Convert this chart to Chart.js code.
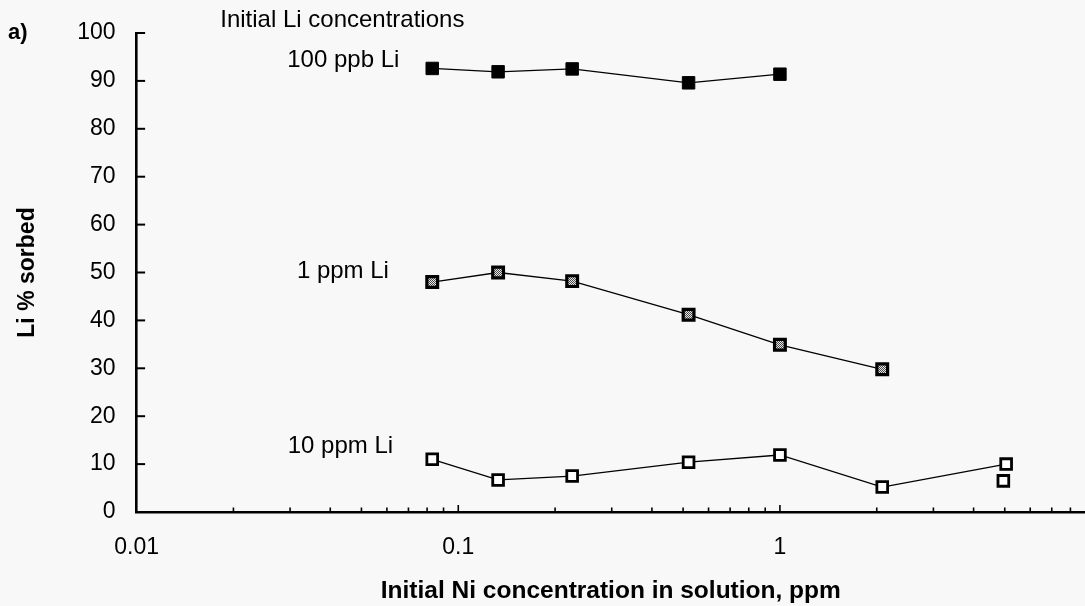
<!DOCTYPE html>
<html>
<head>
<meta charset="utf-8">
<title>Li sorption vs initial Ni concentration</title>
<script src="https://cdn.jsdelivr.net/npm/chart.js@4/dist/chart.umd.min.js"></script>
<style>
  html, body { margin: 0; padding: 0; background: #f8f8f8; }
  #wrap { width: 1085px; height: 606px; }
</style>
</head>
<body>
<div id="wrap"><canvas id="c" width="1085" height="606"></canvas></div>
<script>
// Initial Ni concentration in solution (ppm)
const niConc = [0.083, 0.133, 0.226, 0.52, 1.0, 2.08, 5.05];
// Li % sorbed for each initial Li concentration
const sorbed100ppb = [92.6, 91.9, 92.5, 89.6, 91.4];
const sorbed1ppm   = [48.0, 50.0, 48.2, 41.2, 34.9, 29.8];
const sorbed10ppm  = [11.0, 6.7, 7.5, 10.4, 11.9, 5.2, 10.0];
// replicate 10 ppm point that is not joined to the line
const replicateNi10ppm = [4.95];
const replicateSorbed10ppm = [6.5];

const seriesNames = ['100 ppb Li', '1 ppm Li', '10 ppm Li'];
const xTickLabels = [0.01, 0.1, 1];
const yTickValues = [0, 10, 20, 30, 40, 50, 60, 70, 80, 90, 100];

// series name placement in data units (Ni ppm, % sorbed)
const nameAnchorX = [0.0294, 0.0315, 0.0295];
const nameAnchorY = [94.2, 50.3, 13.6];
const headingText = 'Initial Li concentrations';
const headingAnchor = [0.0182, 102.6];

const FONT = "'Liberation Sans', Arial, Helvetica, sans-serif";

function pairs(xs, ys) {
  return ys.map((v, i) => ({ x: xs[i], y: v }));
}

// speckled grey fill for the 1 ppm markers
function speckle() {
  const c = document.createElement('canvas');
  c.width = 2; c.height = 2;
  const g = c.getContext('2d');
  g.fillStyle = '#e6e6e6'; g.fillRect(0, 0, 2, 2);
  g.fillStyle = '#4a4a4a'; g.fillRect(0, 0, 1, 1); g.fillRect(1, 1, 1, 1);
  return g.createPattern(c, 'repeat');
}

const lineBase = {
  borderColor: '#000',
  borderWidth: 1.3,
  tension: 0,
  pointStyle: 'rect',
  pointBorderColor: '#000',
  clip: false
};

const decor = {
  id: 'decor',
  afterDraw(chart) {
    const { ctx, chartArea: area, scales: { x, y } } = chart;
    ctx.save();
    ctx.strokeStyle = '#000';
    // inward tick marks on the log axis
    ctx.lineWidth = 1.6;
    x.ticks.forEach(t => {
      if (t.value <= x.min) return;
      const px = x.getPixelForValue(t.value);
      const len = xTickLabels.includes(t.value) ? 7 : 4.5;
      ctx.beginPath();
      ctx.moveTo(px, area.bottom);
      ctx.lineTo(px, area.bottom - len);
      ctx.stroke();
    });
    // inward tick marks on the value axis
    ctx.lineWidth = 2;
    y.ticks.forEach(t => {
      if (t.value <= y.min) return;
      const py = y.getPixelForValue(t.value);
      ctx.beginPath();
      ctx.moveTo(area.left, py);
      ctx.lineTo(area.left + 8.5, py);
      ctx.stroke();
    });
    // series names and heading
    ctx.fillStyle = '#000';
    ctx.textAlign = 'left';
    ctx.textBaseline = 'middle';
    ctx.font = '24px ' + FONT;
    seriesNames.forEach((name, i) => {
      ctx.fillText(name, x.getPixelForValue(nameAnchorX[i]), y.getPixelForValue(nameAnchorY[i]));
    });
    ctx.fillText(headingText, x.getPixelForValue(headingAnchor[0]), y.getPixelForValue(headingAnchor[1]));
    // panel letter
    ctx.font = 'bold 22px ' + FONT;
    ctx.fillText('a)', 8, 33);
    ctx.restore();
  }
};

new Chart(document.getElementById('c'), {
  type: 'line',
  data: {
    datasets: [
      Object.assign({}, lineBase, {
        label: seriesNames[0],
        data: pairs(niConc, sorbed100ppb),
        pointBackgroundColor: '#000',
        pointBorderWidth: 1,
        pointRadius: 8.8
      }),
      Object.assign({}, lineBase, {
        label: seriesNames[1],
        data: pairs(niConc, sorbed1ppm),
        pointBackgroundColor: speckle(),
        pointBorderWidth: 3.2,
        pointRadius: 7.6
      }),
      Object.assign({}, lineBase, {
        label: seriesNames[2],
        data: pairs(niConc, sorbed10ppm),
        pointBackgroundColor: '#fff',
        pointBorderWidth: 2.8,
        pointRadius: 7.6
      }),
      Object.assign({}, lineBase, {
        label: seriesNames[2] + ' (replicate)',
        data: pairs(replicateNi10ppm, replicateSorbed10ppm),
        showLine: false,
        pointBackgroundColor: '#fff',
        pointBorderWidth: 2.8,
        pointRadius: 7.6
      })
    ]
  },
  options: {
    responsive: false,
    animation: false,
    events: [],
    layout: { autoPadding: false, padding: { top: 33, right: 0, bottom: 0, left: 0 } },
    plugins: {
      legend: { display: false },
      tooltip: { enabled: false }
    },
    scales: {
      x: {
        type: 'logarithmic',
        min: 0.01,
        max: 8.88,
        grid: { display: false, drawTicks: false },
        border: { display: true, color: '#000', width: 2.6 },
        ticks: {
          autoSkip: false,
          maxRotation: 0,
          padding: 22,
          color: '#000',
          font: { family: FONT, size: 23 },
          callback: v => (xTickLabels.includes(v) ? String(v) : '')
        },
        title: {
          display: true,
          text: 'Initial Ni concentration in solution, ppm',
          color: '#000',
          font: { family: FONT, size: 24.5, weight: 'bold' },
          padding: { top: 0, bottom: 0 }
        },
        afterBuildTicks(scale) {
          const vals = [];
          xTickLabels.forEach(d => {
            for (let k = 1; k <= 9; k++) {
              const v = +(d * k).toPrecision(3);
              if (v <= scale.max) vals.push(v);
            }
          });
          scale.ticks = vals.map(v => ({ value: v, major: xTickLabels.includes(v) }));
        },
        afterFit(scale) {
          scale.height = 94;
          scale.paddingLeft = 0;
          scale.paddingRight = 0;
        }
      },
      y: {
        min: 0,
        max: 100,
        grid: { display: false, drawTicks: false },
        border: { display: true, color: '#000', width: 2.6 },
        ticks: {
          padding: 21,
          color: '#000',
          font: { family: FONT, size: 23 }
        },
        title: {
          display: true,
          text: 'Li % sorbed',
          color: '#000',
          font: { family: FONT, size: 23, weight: 'bold' },
          padding: { top: 14, bottom: 0 }
        },
        afterBuildTicks(scale) {
          scale.ticks = yTickValues.map(v => ({ value: v }));
        },
        afterFit(scale) {
          scale.width = 136.6;
          scale.paddingTop = 0;
          scale.paddingBottom = 0;
        }
      }
    }
  },
  plugins: [decor]
});
</script>
</body>
</html>
